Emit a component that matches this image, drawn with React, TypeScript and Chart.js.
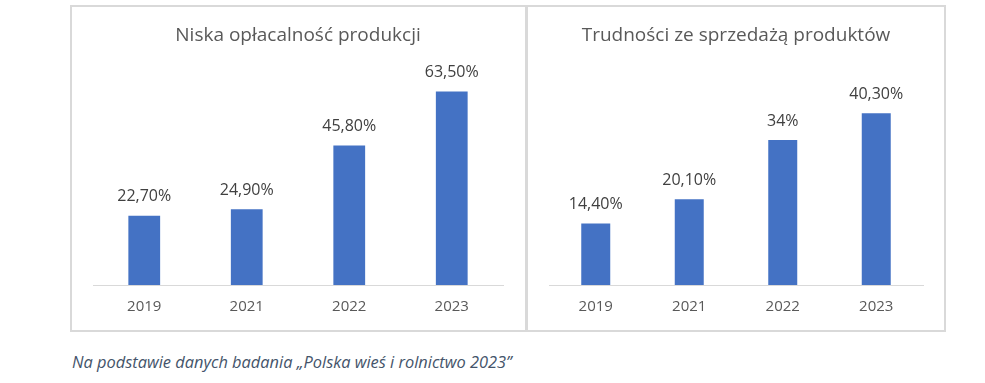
import React, { useEffect, useRef } from "react";
import { Chart, registerables } from "chart.js";

Chart.register(...registerables);

const years = ["2019", "2021", "2022", "2023"];
const lowProfitability = [22.7, 24.9, 45.8, 63.5];
const lowProfitabilityLabels = ["22,70%", "24,90%", "45,80%", "63,50%"];
const salesDifficulties = [14.4, 20.1, 34, 40.3];
const salesDifficultiesLabels = ["14,40%", "20,10%", "34%", "40,30%"];
const titleLeft = "Niska opłacalność produkcji";
const titleRight = "Trudności ze sprzedażą produktów";
const maxLeft = 70;
const maxRight = 50;
const caption = "Na podstawie danych badania „Polska wieś i rolnictwo 2023”";

const FONT = "'Open Sans', sans-serif";
const BAR = "#4472C4";
const GRID = "#d9d9d9";

const valueLabelPlugin = {
  id: "valueLabels",
  afterDatasetsDraw(chart: any, _args: any, opts: any) {
    const ctx = chart.ctx;
    const meta = chart.getDatasetMeta(0);
    ctx.save();
    ctx.font = `${opts.size}px ${FONT}`;
    ctx.fillStyle = opts.color;
    ctx.textAlign = "center";
    ctx.textBaseline = "middle";
    meta.data.forEach((bar: any, i: number) => {
      ctx.fillText(opts.labels[i], bar.x, bar.y - opts.offset);
    });
    ctx.restore();
  },
};

function BarPanel(props: {
  title: string;
  values: number[];
  labels: string[];
  max: number;
  padLeft: number;
  padRight: number;
}) {
  const ref = useRef<HTMLCanvasElement | null>(null);
  useEffect(() => {
    if (!ref.current) return;
    const chart = new Chart(ref.current, {
      type: "bar",
      data: {
        labels: years,
        datasets: [
          {
            data: props.values,
            backgroundColor: BAR,
            categoryPercentage: 1,
            barPercentage: 0.31,
          },
        ],
      },
      plugins: [valueLabelPlugin],
      options: {
        animation: false,
        responsive: true,
        maintainAspectRatio: false,
        layout: { padding: { left: props.padLeft, right: props.padRight, top: 0, bottom: 0 } },
        plugins: {
          legend: { display: false },
          tooltip: { enabled: false },
          title: {
            display: true,
            text: props.title,
            color: "#595959",
            font: { family: FONT, size: 19, weight: "normal" as any, lineHeight: 1.2 },
            padding: { top: 17, bottom: 25 },
          },
          valueLabels: { labels: props.labels, size: 16, color: "#404040", offset: 19 },
        } as any,
        scales: {
          x: {
            grid: { display: false, drawTicks: false },
            border: { display: true, color: GRID, width: 1 },
            ticks: {
              color: "#595959",
              font: { family: FONT, size: 15 },
              padding: 13,
            },
            afterFit: (scale: any) => {
              scale.height = 45;
            },
          },
          y: {
            display: false,
            min: 0,
            max: props.max,
          },
        },
      },
    });
    return () => chart.destroy();
  }, []);
  return <canvas ref={ref} />;
}

export default function App() {
  return (
    <div style={{ position: "absolute", left: 0, top: 0, width: 985, height: 383, background: "#fff" }}>
      <div
        style={{
          position: "absolute",
          left: 70,
          top: 5,
          width: 876,
          height: 327,
          border: `2px solid ${GRID}`,
          boxSizing: "border-box",
        }}
      />
      <div style={{ position: "absolute", left: 525, top: 5, width: 3, height: 327, background: GRID }} />
      <div style={{ position: "absolute", left: 72, top: 7, width: 453, height: 323 }}>
        <BarPanel
          title={titleLeft}
          values={lowProfitability}
          labels={lowProfitabilityLabels}
          max={maxLeft}
          padLeft={21}
          padRight={22}
        />
      </div>
      <div style={{ position: "absolute", left: 528, top: 7, width: 416, height: 323 }}>
        <BarPanel
          title={titleRight}
          values={salesDifficulties}
          labels={salesDifficultiesLabels}
          max={maxRight}
          padLeft={21}
          padRight={21}
        />
      </div>
      <div
        style={{
          position: "absolute",
          left: 72,
          top: 351,
          fontFamily: FONT,
          fontStyle: "italic",
          fontSize: 16.4,
          lineHeight: "22px",
          color: "#44546A",
          whiteSpace: "nowrap",
        }}
      >
        {caption}
      </div>
    </div>
  );
}
